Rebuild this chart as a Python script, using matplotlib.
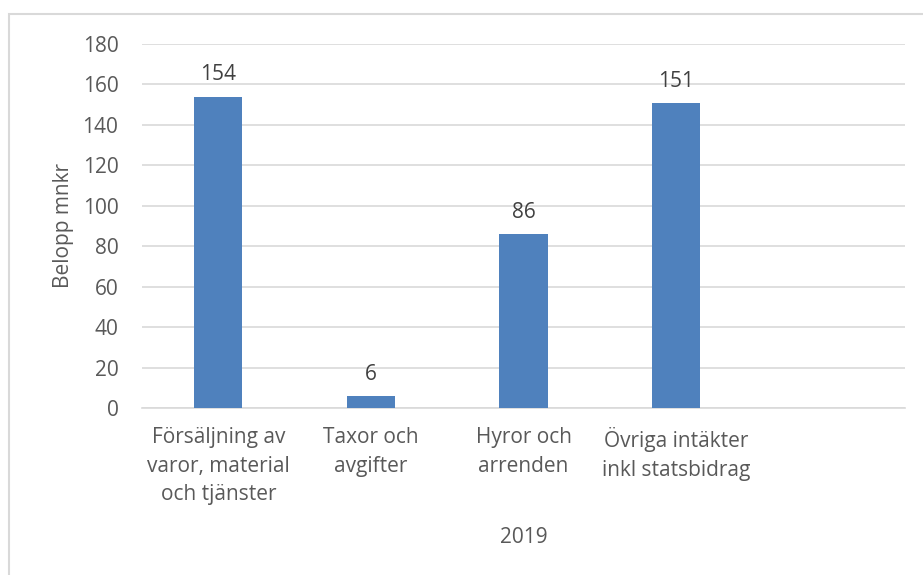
import matplotlib
matplotlib.use("Agg")
import matplotlib.pyplot as plt
from matplotlib.patches import Rectangle

categories = ["Försäljning av\nvaror, material\noch tjänster", "Taxor och\navgifter",
              "Hyror och\narrenden", "Övriga intäkter\ninkl statsbidrag", ""]
values = [154, 6, 86, 151, None]
value_labels = ["154", "6", "86", "151"]
yticks = [0, 20, 40, 60, 80, 100, 120, 140, 160, 180]
xlabel = "2019"
ylabel = "Belopp mnkr"

plt.rcParams['font.family'] = ['Open Sans', 'DejaVu Sans']
FS = 15
W, H = 923, 575
fig = plt.figure(figsize=(W / 100, H / 100), dpi=100)
fig.patches.append(Rectangle((9 / W, -0.1), 1.2, (H - 14) / H + 0.1, transform=fig.transFigure,
                             fill=False, edgecolor="#d9d9d9", linewidth=1.5))

ax = fig.add_axes([142 / W, 1 - 408 / H, (905 - 142) / W, (408 - 44) / H])
xs = list(range(len(categories)))
bar_vals = [v if v is not None else 0 for v in values]
bars = ax.bar(xs, bar_vals, width=0.315, color="#4f81bd", zorder=3)
for x, v, lab in zip(xs, values, value_labels):
    ax.annotate(lab, (x, v), xytext=(0, 8), textcoords="offset points",
                ha="center", va="bottom", fontsize=FS, color="#404040")

ax.set_xlim(-0.5, len(categories) - 0.5)
ax.set_ylim(0, 180)
ax.set_yticks(yticks)
ax.set_yticklabels([str(t) for t in yticks], fontsize=FS, color="#595959")
ax.set_xticks(xs)
ax.set_xticklabels(categories, fontsize=FS, color="#595959", linespacing=1.45)
ax.tick_params(axis="both", length=0)
ax.tick_params(axis="y", pad=17)
ax.tick_params(axis="x", pad=14)
ax.grid(axis="y", color="#d9d9d9", linewidth=1.2, zorder=0)
for s in ["top", "right", "left"]:
    ax.spines[s].set_visible(False)
ax.spines["bottom"].set_color("#d9d9d9")
ax.spines["bottom"].set_linewidth(1.2)
ax.set_xlabel(xlabel, fontsize=FS, color="#595959", labelpad=16)
ax.set_ylabel(ylabel, fontsize=FS, color="#595959", labelpad=6)

fig.savefig("out.png", dpi=100)
